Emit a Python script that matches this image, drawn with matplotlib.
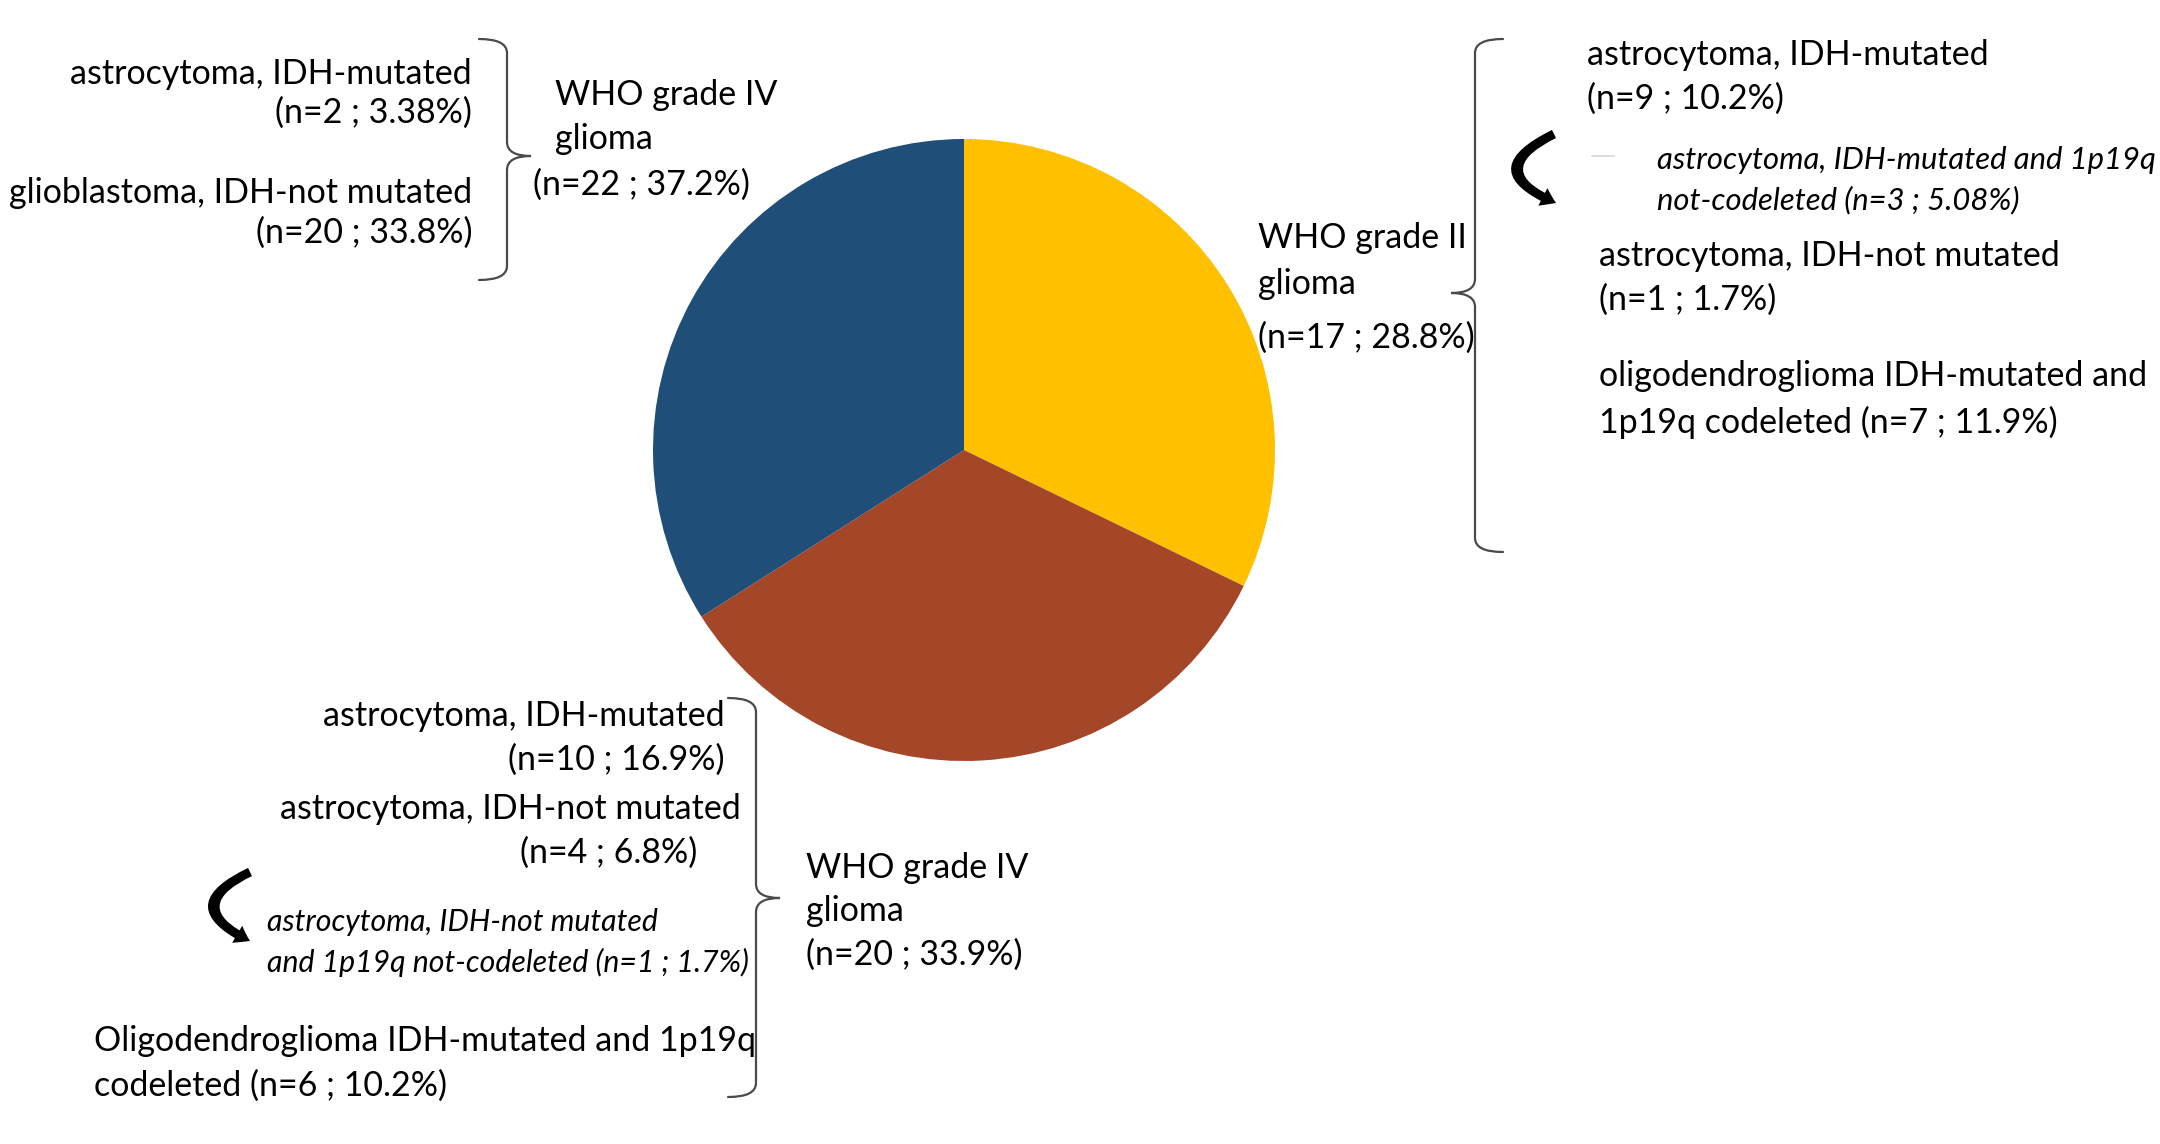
import numpy as np
import matplotlib
matplotlib.use('Agg')
import matplotlib.pyplot as plt
from matplotlib.path import Path
from matplotlib.patches import PathPatch, FancyArrowPatch

plt.rcParams['font.family'] = ['Lato', 'DejaVu Sans']

# pie wedges as drawn, clockwise from 12 o'clock (share of the circle, %)
slice_names = ['WHO grade II', 'WHO grade IV (lower)', 'WHO grade IV (upper)']
slice_share = [32.2, 33.8, 34.0]
slice_colors = ['#FFC000', '#A34728', '#1F4E79']

# group labels
grade2_lines = ['WHO grade II', 'glioma', '(n=17 ; 28.8%)']
grade4_top_lines = ['WHO grade IV', 'glioma', '(n=22 ; 37.2%)']
grade4_bot_lines = ['WHO grade IV', 'glioma', '(n=20 ; 33.9%)']

# sub-types
top_sub = ['astrocytoma, IDH-mutated', '(n=2 ; 3.38%)',
           'glioblastoma, IDH-not mutated', '(n=20 ; 33.8%)']
right_sub = ['astrocytoma, IDH-mutated', '(n=9 ; 10.2%)',
             'astrocytoma, IDH-not mutated', '(n=1 ; 1.7%)',
             'oligodendroglioma IDH-mutated and', '1p19q codeleted (n=7 ; 11.9%)']
right_note = ['astrocytoma, IDH-mutated and 1p19q', 'not-codeleted (n=3 ; 5.08%)']
bot_sub = ['astrocytoma, IDH-mutated', '(n=10 ; 16.9%)',
           'astrocytoma, IDH-not mutated', '(n=4 ; 6.8%)']
bot_oligo = ['Oligodendroglioma IDH-mutated and 1p19q', 'codeleted (n=6 ; 10.2%)']
bot_note = ['astrocytoma, IDH-not mutated', 'and 1p19q not-codeleted (n=1 ; 1.7%)']

W, H = 2160, 1144
fig = plt.figure(figsize=(W / 100, H / 100), dpi=100)
ax = fig.add_axes([0, 0, 1, 1])
ax.set_xlim(0, W)
ax.set_ylim(H, 0)
ax.axis('off')

# pie
cx, cy, r = 964, 450, 311
pax = fig.add_axes([(cx - r) / W, 1 - (cy + r) / H, 2 * r / W, 2 * r / H])
pax.pie(slice_share, colors=slice_colors, startangle=90, counterclock=False,
        radius=1, wedgeprops=dict(linewidth=0))
pax.set_xlim(-1, 1)
pax.set_ylim(-1, 1)
pax.set_aspect('equal')
pax.axis('off')

fs = 24.5
tc = 'black'


def put(x, y, s, ha='left', size=fs, style='normal'):
    ax.text(x, y, s, ha=ha, va='center', fontsize=size, style=style, color=tc)


def brace(x, y0, y1, ym, side, curl=28, tip=24, k=14):
    # side=+1 -> tip points right, ends curl left ( "}" ); side=-1 -> "{"
    e = -side * curl
    t = side * tip
    verts = [(x + e, y0), (x, y0), (x, y0 + k),
             (x, ym - k), (x, ym), (x + t, ym),
             (x, ym), (x, ym + k),
             (x, y1 - k), (x, y1), (x + e, y1)]
    codes = [Path.MOVETO, Path.CURVE3, Path.CURVE3,
             Path.LINETO, Path.CURVE3, Path.CURVE3,
             Path.CURVE3, Path.CURVE3,
             Path.LINETO, Path.CURVE3, Path.CURVE3]
    ax.add_patch(PathPatch(Path(verts, codes), fill=False, lw=1.6,
                           edgecolor='#4a4a4a', capstyle='round'))


def curl_arrow(x0, y0, x1, y1, rad):
    ax.add_patch(FancyArrowPatch((x0, y0), (x1, y1),
                                 connectionstyle='arc3,rad=%s' % rad,
                                 arrowstyle='simple,head_length=0.8,head_width=1.1,tail_width=0.5',
                                 mutation_scale=13, lw=0, color='black',
                                 shrinkA=0, shrinkB=0))


# top-left group
for s, y in zip(top_sub, [74, 113, 193, 233]):
    put(472, y, s, ha='right')
brace(507, 39, 280, 156, +1)
for s, x, y in zip(grade4_top_lines, [555, 555, 533], [95, 139, 185]):
    put(x, y, s)

# right group
brace(1475, 39, 552, 293, -1)
for s, y in zip(grade2_lines, [238, 284, 338]):
    put(1258, y, s)
for s, x, y in zip(right_sub, [1587, 1587, 1599, 1599, 1599, 1599],
                   [55, 99, 256, 300, 376, 422]):
    put(x, y, s)
for s, y in zip(right_note, [160, 200]):
    put(1657, y, s, size=22.3, style='italic')
ax.plot([1592, 1614], [156, 156], color='#d8d8d8', lw=1.2)
curl_arrow(1554, 134, 1556, 203, 1.1)

# bottom group
for s, x, y in zip(bot_sub, [725, 725, 741, 697], [716, 760, 809, 853]):
    put(x, y, s, ha='right')
for s, y in zip(bot_oligo, [1041, 1086]):
    put(94, y, s)
for s, y in zip(bot_note, [922, 962]):
    put(267, y, s, size=21.8, style='italic')
curl_arrow(250, 872, 250, 941, 1.05)
brace(756, 698, 1097, 898, +1)
for s, y in zip(grade4_bot_lines, [868, 911, 955]):
    put(806, y, s)

fig.savefig('out.png', dpi=100, facecolor='white')
